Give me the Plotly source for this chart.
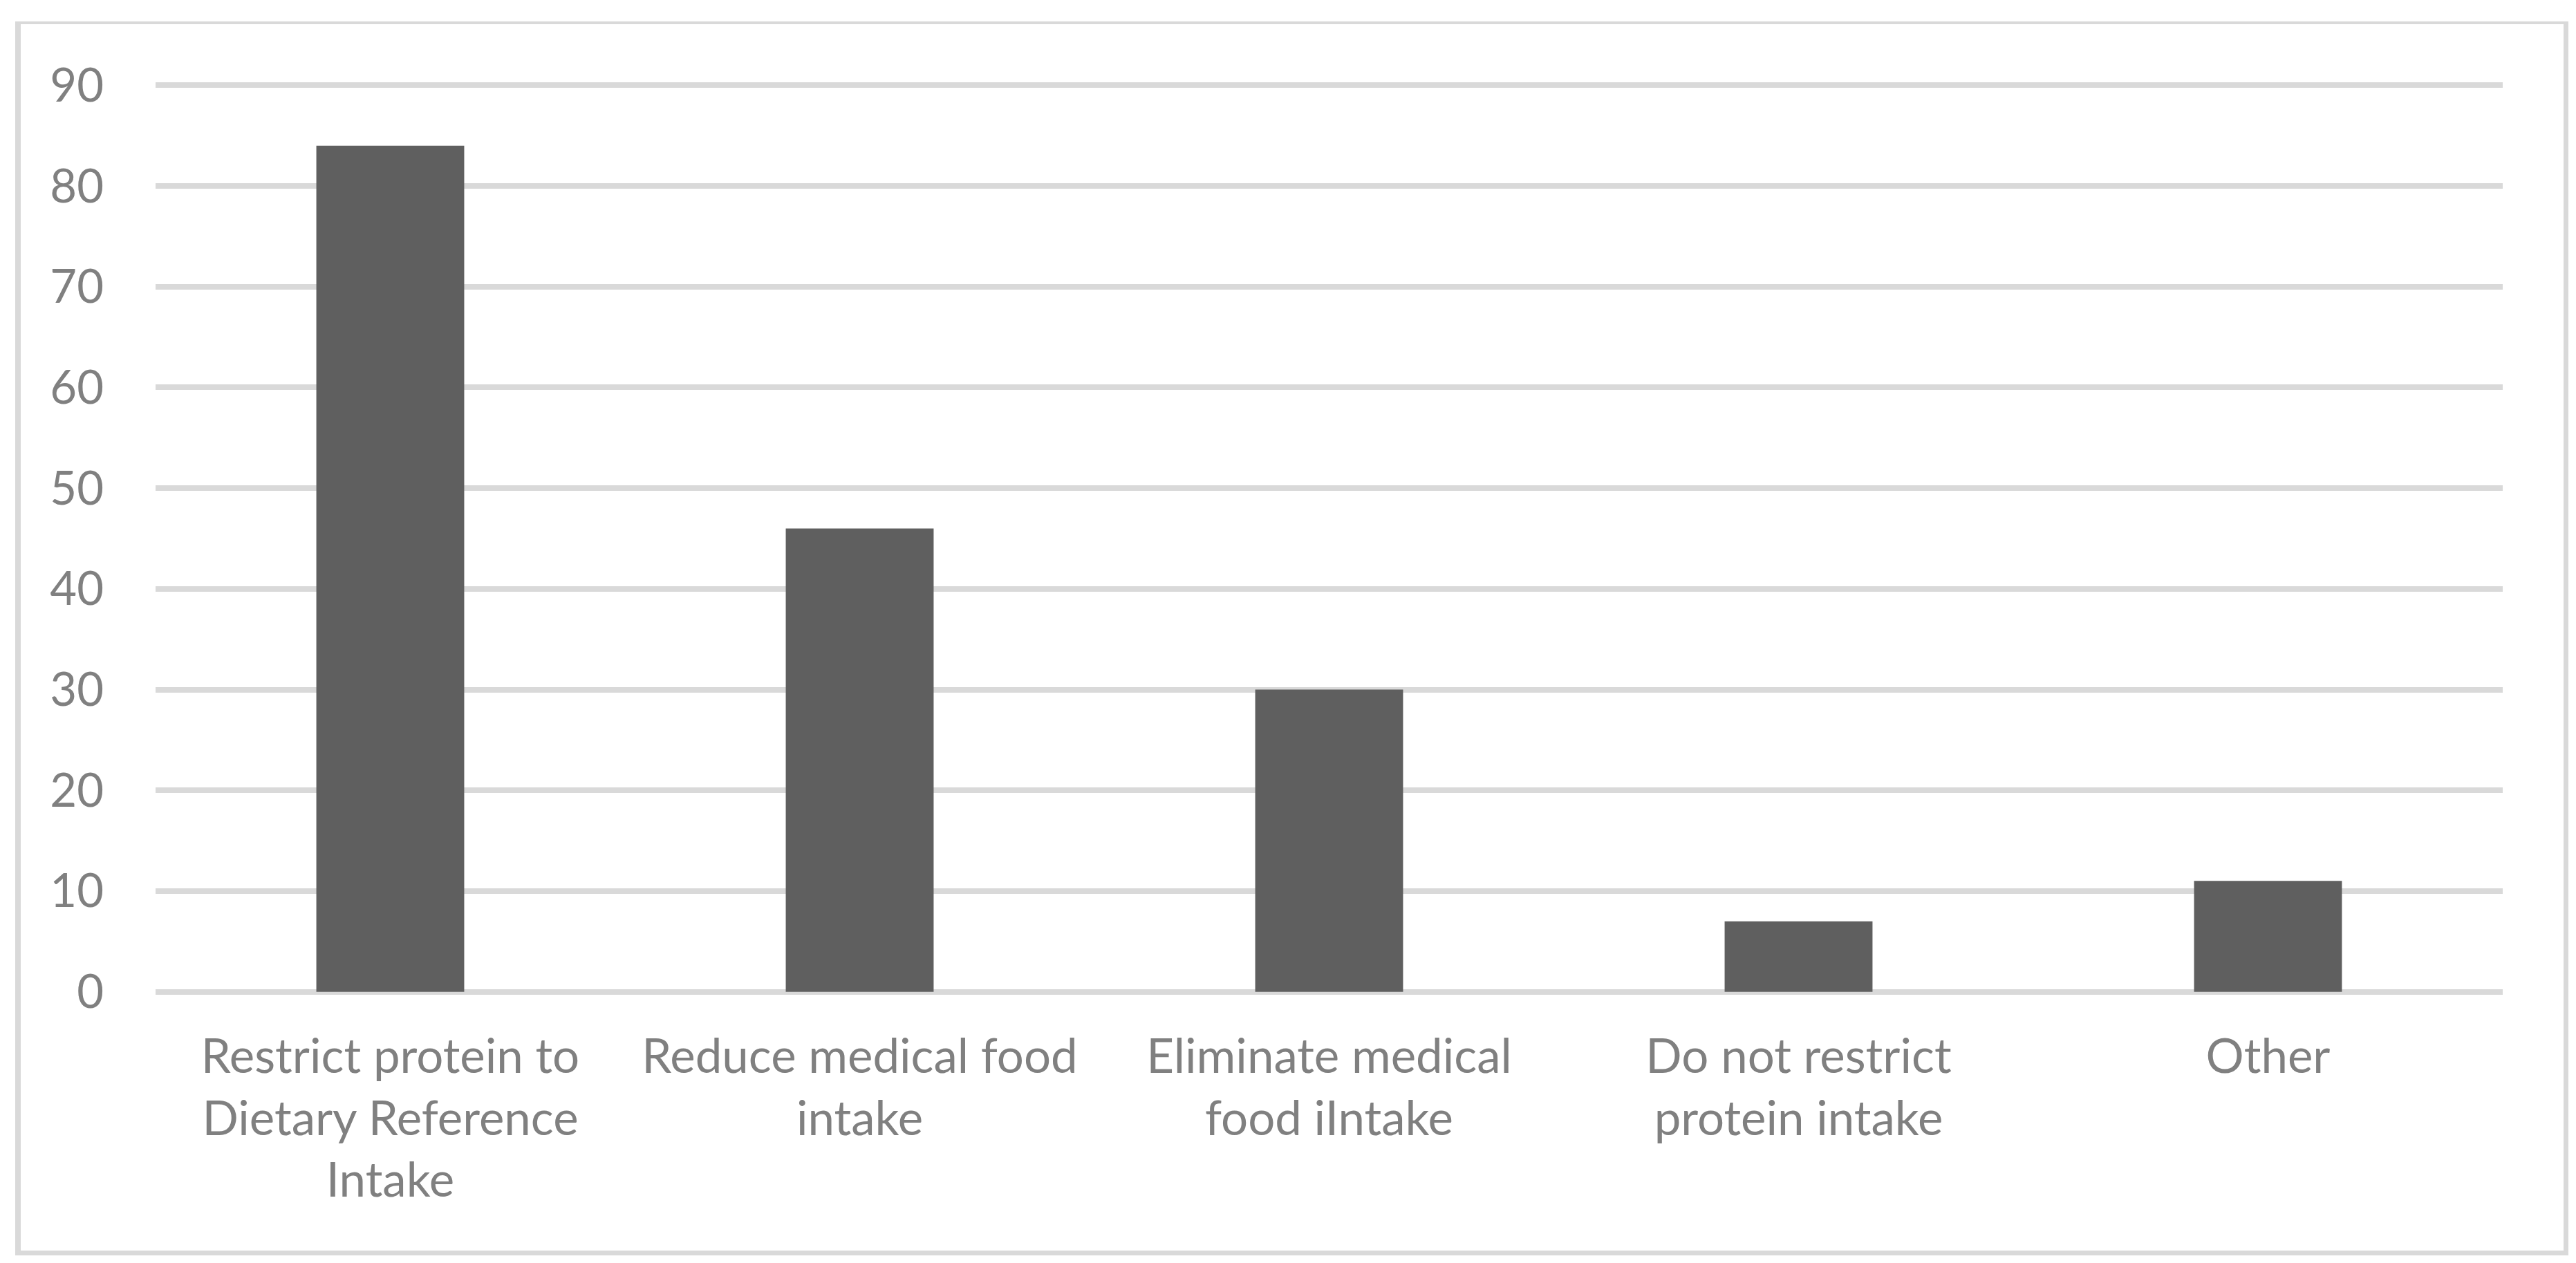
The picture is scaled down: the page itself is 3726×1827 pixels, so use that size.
import plotly.graph_objects as go

categories = [
    "Restrict protein to<br>Dietary Reference<br>Intake",
    "Reduce medical food<br>intake",
    "Eliminate medical<br>food iIntake",
    "Do not restrict<br>protein intake",
    "Other",
]
values = [84, 46, 30, 7, 11]
y_ticks = [0, 10, 20, 30, 40, 50, 60, 70, 80, 90]

W, H = 3726, 1827
L, R, T, B = 217, 3612, 111, 1431

fig = go.Figure()
fig.add_trace(go.Bar(
    x=categories, y=values,
    marker=dict(color="#5f5f5f", line=dict(width=0)),
    hoverinfo="x+y",
))

font_family = "Lato, 'Open Sans', sans-serif"
border = "#d9d9d9"


def px_x(p):
    return (p - L) / (R - L)


def px_y(p):
    return (B - p) / (B - T)


shapes = [
    dict(type="line", xref="paper", yref="paper",
         x0=px_x(14), x1=px_x(3707), y0=px_y(25), y1=px_y(25),
         line=dict(color=border, width=4)),
    dict(type="line", xref="paper", yref="paper",
         x0=px_x(14), x1=px_x(3707), y0=px_y(1804.5), y1=px_y(1804.5),
         line=dict(color=border, width=7)),
    dict(type="line", xref="paper", yref="paper",
         x0=px_x(18), x1=px_x(18), y0=px_y(23), y1=px_y(1808),
         line=dict(color=border, width=8)),
    dict(type="line", xref="paper", yref="paper",
         x0=px_x(3703.5), x1=px_x(3703.5), y0=px_y(23), y1=px_y(1808),
         line=dict(color=border, width=7)),
]

fig.update_layout(
    width=W, height=H,
    margin=dict(l=L, r=W - R, t=T, b=H - B, pad=0),
    paper_bgcolor="white", plot_bgcolor="white",
    bargap=0.685,
    showlegend=False,
    font=dict(family=font_family, color="#808080", size=69),
    xaxis=dict(
        type="category", showgrid=False, zeroline=False, showline=False,
        ticks="", tickfont=dict(size=69, color="#808080"),
        ticklabelstandoff=43,
    ),
    yaxis=dict(
        range=[-0.3, 90.3], tickvals=y_ticks, ticktext=[str(v) for v in y_ticks],
        showgrid=True, gridcolor="#d9d9d9", gridwidth=8,
        zeroline=False, showline=False, ticks="",
        tickfont=dict(size=67, color="#808080"),
        ticklabelstandoff=74,
    ),
    shapes=shapes,
)

fig.write_html("out.html")
